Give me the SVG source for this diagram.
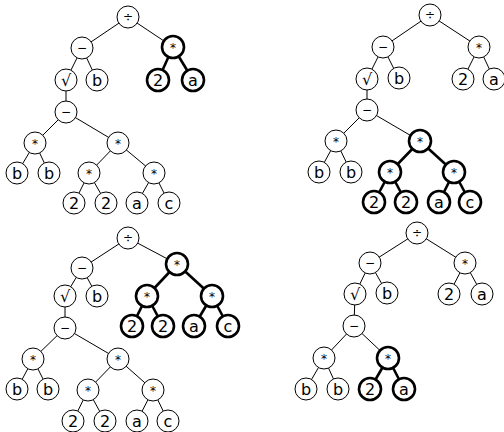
<svg xmlns="http://www.w3.org/2000/svg" width="504" height="432" viewBox="0 0 504 432">
<style>
.e{stroke:#000;stroke-width:1;fill:none}
.eb{stroke:#000;stroke-width:2.6;fill:none}
.n circle{fill:#fff;stroke:#000;stroke-width:1}
.b circle{fill:#fff;stroke:#000;stroke-width:2.6}
text{font-family:"DejaVu Sans",sans-serif;text-anchor:middle;fill:#000}
.l{font-size:16px}
.o{font-size:12px}
</style>
<rect width="504" height="432" fill="#fff"/>

<g id="connectors">
<g id="edges1">
<line class="e" x1="128" y1="17" x2="82" y2="48"/>
<line class="e" x1="128" y1="17" x2="173" y2="47"/>
<line class="eb" x1="173" y1="47" x2="158" y2="80"/>
<line class="eb" x1="173" y1="47" x2="193" y2="80"/>
<line class="e" x1="82" y1="48" x2="66" y2="80"/>
<line class="e" x1="82" y1="48" x2="97" y2="80"/>
<line class="e" x1="66" y1="80" x2="66" y2="112"/>
<line class="e" x1="66" y1="112" x2="35" y2="143"/>
<line class="e" x1="66" y1="112" x2="118" y2="143"/>
<line class="e" x1="35" y1="143" x2="17" y2="173"/>
<line class="e" x1="35" y1="143" x2="49" y2="173"/>
<line class="e" x1="118" y1="143" x2="89" y2="173"/>
<line class="e" x1="118" y1="143" x2="154" y2="173"/>
<line class="e" x1="89" y1="173" x2="74" y2="203"/>
<line class="e" x1="89" y1="173" x2="106" y2="203"/>
<line class="e" x1="154" y1="173" x2="137" y2="203"/>
<line class="e" x1="154" y1="173" x2="169" y2="203"/>
</g>
<g id="edges2">
<line class="e" x1="430" y1="15" x2="383" y2="47"/>
<line class="e" x1="430" y1="15" x2="479" y2="47"/>
<line class="e" x1="479" y1="47" x2="463" y2="79"/>
<line class="e" x1="479" y1="47" x2="494" y2="79"/>
<line class="e" x1="383" y1="47" x2="367" y2="79"/>
<line class="e" x1="383" y1="47" x2="399" y2="79"/>
<line class="e" x1="367" y1="79" x2="367" y2="110"/>
<line class="e" x1="367" y1="110" x2="336" y2="141"/>
<line class="e" x1="367" y1="110" x2="420" y2="141"/>
<line class="e" x1="336" y1="141" x2="319" y2="172"/>
<line class="e" x1="336" y1="141" x2="351" y2="172"/>
<line class="eb" x1="420" y1="141" x2="390" y2="172"/>
<line class="eb" x1="420" y1="141" x2="454" y2="172"/>
<line class="eb" x1="390" y1="172" x2="374" y2="202"/>
<line class="eb" x1="390" y1="172" x2="406" y2="202"/>
<line class="eb" x1="454" y1="172" x2="439" y2="202"/>
<line class="eb" x1="454" y1="172" x2="470" y2="202"/>
</g>
<g id="edges3">
<line class="e" x1="128" y1="238" x2="82" y2="268"/>
<line class="e" x1="128" y1="238" x2="177" y2="264"/>
<line class="eb" x1="177" y1="264" x2="147" y2="296"/>
<line class="eb" x1="177" y1="264" x2="212" y2="296"/>
<line class="eb" x1="147" y1="296" x2="132" y2="326"/>
<line class="eb" x1="147" y1="296" x2="163" y2="326"/>
<line class="eb" x1="212" y1="296" x2="194" y2="326"/>
<line class="eb" x1="212" y1="296" x2="228" y2="326"/>
<line class="e" x1="82" y1="268" x2="65" y2="296"/>
<line class="e" x1="82" y1="268" x2="97" y2="296"/>
<line class="e" x1="65" y1="296" x2="65" y2="328"/>
<line class="e" x1="65" y1="328" x2="33" y2="359"/>
<line class="e" x1="65" y1="328" x2="118" y2="359"/>
<line class="e" x1="33" y1="359" x2="17" y2="389"/>
<line class="e" x1="33" y1="359" x2="48" y2="389"/>
<line class="e" x1="118" y1="359" x2="88" y2="390"/>
<line class="e" x1="118" y1="359" x2="153" y2="390"/>
<line class="e" x1="88" y1="390" x2="73" y2="421"/>
<line class="e" x1="88" y1="390" x2="105" y2="421"/>
<line class="e" x1="153" y1="390" x2="137" y2="421"/>
<line class="e" x1="153" y1="390" x2="168" y2="421"/>
</g>
<g id="edges4">
<line class="e" x1="417" y1="233" x2="370" y2="263"/>
<line class="e" x1="417" y1="233" x2="465" y2="263"/>
<line class="e" x1="465" y1="263" x2="449" y2="294"/>
<line class="e" x1="465" y1="263" x2="482" y2="294"/>
<line class="e" x1="370" y1="263" x2="355" y2="294"/>
<line class="e" x1="370" y1="263" x2="387" y2="293"/>
<line class="e" x1="355" y1="294" x2="354" y2="326"/>
<line class="e" x1="354" y1="326" x2="324" y2="358"/>
<line class="e" x1="354" y1="326" x2="388" y2="358"/>
<line class="e" x1="324" y1="358" x2="306" y2="389"/>
<line class="e" x1="324" y1="358" x2="338" y2="389"/>
<line class="eb" x1="388" y1="358" x2="370" y2="389"/>
<line class="eb" x1="388" y1="358" x2="404" y2="389"/>
</g>
</g>

<!-- Tree 1 -->
<g id="t1-div" class="n"><circle cx="128" cy="17" r="11"/><text class="o" x="128" y="21">÷</text></g>
<g id="t1-minus" class="n"><circle cx="82" cy="48" r="11"/><text class="o" x="82" y="52">−</text></g>
<g id="t1-mul" class="b"><circle cx="173" cy="47" r="11"/><text class="o" x="173" y="52">*</text></g>
<g id="t1-sqrt" class="n"><circle cx="66" cy="80" r="11"/><text class="l" x="66" y="86">√</text></g>
<g id="t1-b" class="n"><circle cx="97" cy="80" r="11"/><text class="l" x="97" y="86">b</text></g>
<g id="t1-2" class="b"><circle cx="158" cy="80" r="11"/><text class="l" x="158" y="86">2</text></g>
<g id="t1-a" class="b"><circle cx="193" cy="80" r="11"/><text class="l" x="193" y="86">a</text></g>
<g id="t1-minus2" class="n"><circle cx="66" cy="112" r="11"/><text class="o" x="66" y="116">−</text></g>
<g id="t1-mul2" class="n"><circle cx="35" cy="143" r="11"/><text class="o" x="35" y="148">*</text></g>
<g id="t1-mul3" class="n"><circle cx="118" cy="143" r="11"/><text class="o" x="118" y="148">*</text></g>
<g id="t1-b2" class="n"><circle cx="17" cy="173" r="11"/><text class="l" x="17" y="179">b</text></g>
<g id="t1-b3" class="n"><circle cx="49" cy="173" r="11"/><text class="l" x="49" y="179">b</text></g>
<g id="t1-mul4" class="n"><circle cx="89" cy="173" r="11"/><text class="o" x="89" y="178">*</text></g>
<g id="t1-mul5" class="n"><circle cx="154" cy="173" r="11"/><text class="o" x="154" y="178">*</text></g>
<g id="t1-22" class="n"><circle cx="74" cy="203" r="11"/><text class="l" x="74" y="209">2</text></g>
<g id="t1-23" class="n"><circle cx="106" cy="203" r="11"/><text class="l" x="106" y="209">2</text></g>
<g id="t1-a2" class="n"><circle cx="137" cy="203" r="11"/><text class="l" x="137" y="209">a</text></g>
<g id="t1-c" class="n"><circle cx="169" cy="203" r="11"/><text class="l" x="169" y="209">c</text></g>

<!-- Tree 2 -->
<g id="t2-div" class="n"><circle cx="430" cy="15" r="11"/><text class="o" x="430" y="19">÷</text></g>
<g id="t2-minus" class="n"><circle cx="383" cy="47" r="11"/><text class="o" x="383" y="51">−</text></g>
<g id="t2-mul" class="n"><circle cx="479" cy="47" r="11"/><text class="o" x="479" y="52">*</text></g>
<g id="t2-sqrt" class="n"><circle cx="367" cy="79" r="11"/><text class="l" x="367" y="85">√</text></g>
<g id="t2-b" class="n"><circle cx="399" cy="78" r="11"/><text class="l" x="399" y="84">b</text></g>
<g id="t2-2" class="n"><circle cx="463" cy="79" r="11"/><text class="l" x="463" y="85">2</text></g>
<g id="t2-a" class="n"><circle cx="494" cy="79" r="11"/><text class="l" x="494" y="85">a</text></g>
<g id="t2-minus2" class="n"><circle cx="367" cy="110" r="11"/><text class="o" x="367" y="114">−</text></g>
<g id="t2-mul2" class="n"><circle cx="336" cy="141" r="11"/><text class="o" x="336" y="146">*</text></g>
<g id="t2-mul3" class="b"><circle cx="420" cy="141" r="11"/><text class="o" x="420" y="146">*</text></g>
<g id="t2-b2" class="n"><circle cx="319" cy="172" r="11"/><text class="l" x="319" y="178">b</text></g>
<g id="t2-b3" class="n"><circle cx="351" cy="172" r="11"/><text class="l" x="351" y="178">b</text></g>
<g id="t2-mul4" class="b"><circle cx="390" cy="172" r="11"/><text class="o" x="390" y="177">*</text></g>
<g id="t2-mul5" class="b"><circle cx="454" cy="172" r="11"/><text class="o" x="454" y="177">*</text></g>
<g id="t2-22" class="b"><circle cx="374" cy="202" r="11"/><text class="l" x="374" y="208">2</text></g>
<g id="t2-23" class="b"><circle cx="406" cy="202" r="11"/><text class="l" x="406" y="208">2</text></g>
<g id="t2-a2" class="b"><circle cx="439" cy="202" r="11"/><text class="l" x="439" y="208">a</text></g>
<g id="t2-c" class="b"><circle cx="470" cy="202" r="11"/><text class="l" x="470" y="208">c</text></g>

<!-- Tree 3 -->
<g id="t3-div" class="n"><circle cx="128" cy="238" r="11"/><text class="o" x="128" y="242">÷</text></g>
<g id="t3-minus" class="n"><circle cx="82" cy="268" r="11"/><text class="o" x="82" y="272">−</text></g>
<g id="t3-mul" class="b"><circle cx="177" cy="264" r="11"/><text class="o" x="177" y="269">*</text></g>
<g id="t3-sqrt" class="n"><circle cx="65" cy="296" r="11"/><text class="l" x="65" y="302">√</text></g>
<g id="t3-b" class="n"><circle cx="97" cy="296" r="11"/><text class="l" x="97" y="302">b</text></g>
<g id="t3-mul2" class="b"><circle cx="147" cy="296" r="11"/><text class="o" x="147" y="301">*</text></g>
<g id="t3-mul3" class="b"><circle cx="212" cy="296" r="11"/><text class="o" x="212" y="301">*</text></g>
<g id="t3-2" class="b"><circle cx="132" cy="326" r="11"/><text class="l" x="132" y="332">2</text></g>
<g id="t3-22" class="b"><circle cx="163" cy="326" r="11"/><text class="l" x="163" y="332">2</text></g>
<g id="t3-a" class="b"><circle cx="194" cy="326" r="11"/><text class="l" x="194" y="332">a</text></g>
<g id="t3-c" class="b"><circle cx="228" cy="326" r="11"/><text class="l" x="228" y="332">c</text></g>
<g id="t3-minus2" class="n"><circle cx="65" cy="328" r="11"/><text class="o" x="65" y="332">−</text></g>
<g id="t3-mul4" class="n"><circle cx="33" cy="359" r="11"/><text class="o" x="33" y="364">*</text></g>
<g id="t3-mul5" class="n"><circle cx="118" cy="359" r="11"/><text class="o" x="118" y="364">*</text></g>
<g id="t3-b2" class="n"><circle cx="17" cy="389" r="11"/><text class="l" x="17" y="395">b</text></g>
<g id="t3-b3" class="n"><circle cx="48" cy="389" r="11"/><text class="l" x="48" y="395">b</text></g>
<g id="t3-mul6" class="n"><circle cx="88" cy="390" r="11"/><text class="o" x="88" y="395">*</text></g>
<g id="t3-mul7" class="n"><circle cx="153" cy="390" r="11"/><text class="o" x="153" y="395">*</text></g>
<g id="t3-23" class="n"><circle cx="73" cy="421" r="11"/><text class="l" x="73" y="427">2</text></g>
<g id="t3-24" class="n"><circle cx="105" cy="421" r="11"/><text class="l" x="105" y="427">2</text></g>
<g id="t3-a2" class="n"><circle cx="137" cy="421" r="11"/><text class="l" x="137" y="427">a</text></g>
<g id="t3-c2" class="n"><circle cx="168" cy="421" r="11"/><text class="l" x="168" y="427">c</text></g>

<!-- Tree 4 -->
<g id="t4-div" class="n"><circle cx="417" cy="233" r="11"/><text class="o" x="417" y="237">÷</text></g>
<g id="t4-minus" class="n"><circle cx="370" cy="263" r="11"/><text class="o" x="370" y="267">−</text></g>
<g id="t4-mul" class="n"><circle cx="465" cy="263" r="11"/><text class="o" x="465" y="268">*</text></g>
<g id="t4-sqrt" class="n"><circle cx="355" cy="294" r="11"/><text class="l" x="355" y="300">√</text></g>
<g id="t4-b" class="n"><circle cx="387" cy="293" r="11"/><text class="l" x="387" y="299">b</text></g>
<g id="t4-2" class="n"><circle cx="449" cy="294" r="11"/><text class="l" x="449" y="300">2</text></g>
<g id="t4-a" class="n"><circle cx="482" cy="294" r="11"/><text class="l" x="482" y="300">a</text></g>
<g id="t4-minus2" class="n"><circle cx="354" cy="326" r="11"/><text class="o" x="354" y="330">−</text></g>
<g id="t4-mul2" class="n"><circle cx="324" cy="358" r="11"/><text class="o" x="324" y="363">*</text></g>
<g id="t4-mul3" class="b"><circle cx="388" cy="358" r="11"/><text class="o" x="388" y="363">*</text></g>
<g id="t4-b2" class="n"><circle cx="306" cy="389" r="11"/><text class="l" x="306" y="395">b</text></g>
<g id="t4-b3" class="n"><circle cx="338" cy="389" r="11"/><text class="l" x="338" y="395">b</text></g>
<g id="t4-22" class="b"><circle cx="370" cy="389" r="11"/><text class="l" x="370" y="395">2</text></g>
<g id="t4-a2" class="b"><circle cx="404" cy="389" r="11"/><text class="l" x="404" y="395">a</text></g>
</svg>
